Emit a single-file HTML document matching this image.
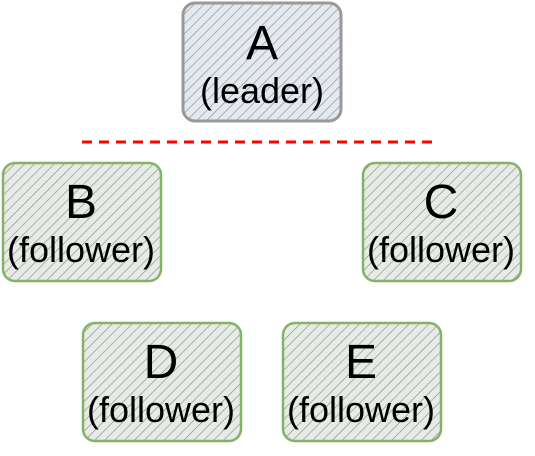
<!DOCTYPE html>
<html><head><style>body{margin:0;background:#fff}svg{display:block}</style></head><body>
<svg width="535" height="456" viewBox="0 0 535 456" xmlns="http://www.w3.org/2000/svg">
<defs>
<pattern id="h" width="7" height="7" patternUnits="userSpaceOnUse" patternTransform="rotate(45)">
<rect width="7" height="7" fill="#e4e9f0"/>
<line x1="0" y1="0" x2="0" y2="7" stroke="#888" stroke-width="1.2"/>
</pattern>
<pattern id="g" width="7" height="7" patternUnits="userSpaceOnUse" patternTransform="rotate(45)">
<rect width="7" height="7" fill="#e6ebe6"/>
<line x1="0" y1="0" x2="0" y2="7" stroke="#888" stroke-width="1.2"/>
</pattern>
</defs>
<g font-family="Liberation Sans, sans-serif" text-anchor="middle" fill="#000">
<rect x="183" y="3" width="158" height="118" rx="12" fill="url(#h)" stroke="#999" stroke-width="3"/>
<text x="262" y="59" font-size="48">A</text><text x="262" y="103" font-size="36">(leader)</text>
<line x1="82" y1="142" x2="434" y2="142" stroke="#f00" stroke-width="3" stroke-dasharray="10,7"/>
<rect x="3" y="163" width="158" height="118" rx="12" fill="url(#g)" stroke="#82b366" stroke-width="2.5"/>
<text x="81" y="218" font-size="48">B</text><text x="81" y="262" font-size="36">(follower)</text>
<rect x="363" y="163" width="158" height="118" rx="12" fill="url(#g)" stroke="#82b366" stroke-width="2.5"/>
<text x="441" y="218" font-size="48">C</text><text x="441" y="262" font-size="36">(follower)</text>
<rect x="83" y="323" width="158" height="118" rx="12" fill="url(#g)" stroke="#82b366" stroke-width="2.5"/>
<text x="161" y="378" font-size="48">D</text><text x="161" y="422" font-size="36">(follower)</text>
<rect x="283" y="323" width="158" height="118" rx="12" fill="url(#g)" stroke="#82b366" stroke-width="2.5"/>
<text x="361" y="378" font-size="48">E</text><text x="361" y="422" font-size="36">(follower)</text>
</g>
</svg>
</body></html>
